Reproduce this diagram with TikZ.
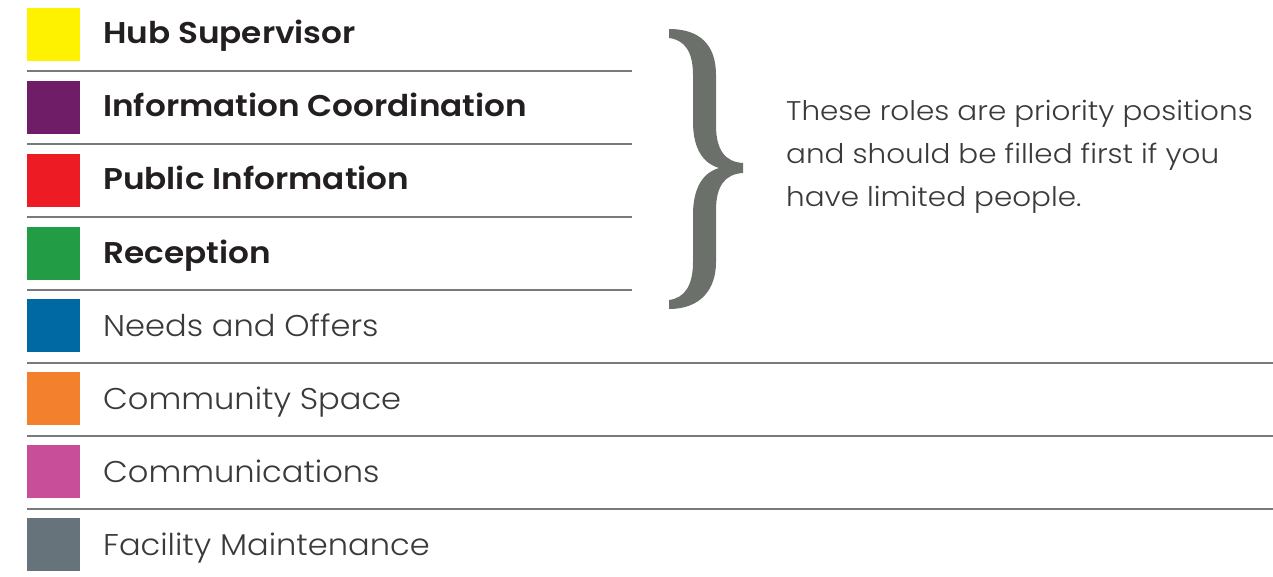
\documentclass[tikz,border=0pt]{standalone}
\usepackage{fontspec}
\setmainfont{Poppins}[UprightFont=* Light, BoldFont=* SemiBold]
\newfontfamily\boldfam{Poppins SemiBold}[FakeStretch=1.09]
\newfontfamily\lightfam{Poppins Light}[FakeStretch=1.07]
\newfontfamily\notefam{Poppins Light}[FakeStretch=1.09]
\definecolor{cyellow}{HTML}{FFF200}
\definecolor{cpurple}{HTML}{6F1D67}
\definecolor{cred}{HTML}{ED1C24}
\definecolor{cgreen}{HTML}{229C45}
\definecolor{cblue}{HTML}{0069A4}
\definecolor{corange}{HTML}{F2802D}
\definecolor{cpink}{HTML}{C94E99}
\definecolor{cgray}{HTML}{66737A}
\definecolor{bracecol}{HTML}{6B716A}
\definecolor{rulecol}{HTML}{7A7A7A}
\definecolor{darktext}{HTML}{231F20}
\definecolor{lighttext}{HTML}{3A3A3A}
\begin{document}
\begin{tikzpicture}[x=1pt,y=-1pt,
  swatch/.style={draw=none,minimum width=53pt,minimum height=53pt,inner sep=0pt,anchor=north west},
  boldlabel/.style={anchor=base west,inner sep=0pt,text=darktext,font=\boldfam\fontsize{30}{36}\selectfont},
  lightlabel/.style={anchor=base west,inner sep=0pt,text=lighttext,font=\lightfam\fontsize{30}{36}\selectfont},
  rowrule/.style={draw=rulecol,line width=1.5pt},
  note/.style={anchor=north west,inner sep=0pt,text=lighttext,align=left,font=\notefam\fontsize{27}{43}\selectfont}]
\useasboundingbox[fill=white] (0,0) rectangle (1273,577);
% swatches
\node[swatch,fill=cyellow] (s1) at (27,8) {};
\node[swatch,fill=cpurple] (s2) at (27,81) {};
\node[swatch,fill=cred] (s3) at (27,154) {};
\node[swatch,fill=cgreen] (s4) at (27,227) {};
\node[swatch,fill=cblue] (s5) at (27,299) {};
\node[swatch,fill=corange] (s6) at (27,372) {};
\node[swatch,fill=cpink] (s7) at (27,445) {};
\node[swatch,fill=cgray] (s8) at (27,518) {};
% labels
\node[boldlabel] (l1) at (103,44) {Hub Supervisor};
\node[boldlabel] (l2) at (103,117) {Information Coordination};
\node[boldlabel] (l3) at (103,190) {Public Information};
\node[boldlabel] (l4) at (103,263) {Reception};
\node[lightlabel] (l5) at (103,336) {Needs and Offers};
\node[lightlabel] (l6) at (103,409) {Community Space};
\node[lightlabel] (l7) at (103,482) {Communications};
\node[lightlabel] (l8) at (103,555) {Facility Maintenance};
% rules
\coordinate (r1a) at (27,71);  \coordinate (r1b) at (632,71);
\coordinate (r2a) at (27,144); \coordinate (r2b) at (632,144);
\coordinate (r3a) at (27,217); \coordinate (r3b) at (632,217);
\coordinate (r4a) at (27,290); \coordinate (r4b) at (632,290);
\coordinate (r5a) at (27,363); \coordinate (r5b) at (1273,363);
\coordinate (r6a) at (27,436); \coordinate (r6b) at (1273,436);
\coordinate (r7a) at (27,509); \coordinate (r7b) at (1273,509);
\foreach \i in {1,...,7} {\draw[rowrule] (r\i a) -- (r\i b);}
% brace
\fill[bracecol] (669,29) .. controls (700,29) and (716,45) .. (716,75)
  -- (716,125) .. controls (716,150) and (725,162) .. (743,163)
  -- (743,173) .. controls (725,174) and (716,186) .. (716,210)
  -- (716,262) .. controls (716,290) and (700,309) .. (669,309)
  -- (669,300) .. controls (685,298) and (693,285) .. (693,262)
  -- (693,215) .. controls (693,185) and (705,172) .. (719,168)
  .. controls (705,164) and (693,151) .. (693,122)
  -- (693,75) .. controls (693,52) and (685,40) .. (669,38) -- cycle;
% note
\node[note] (n) at (786,100) {These roles are priority positions\\and should be filled first if you\\have limited people.};
\end{tikzpicture}
\end{document}
